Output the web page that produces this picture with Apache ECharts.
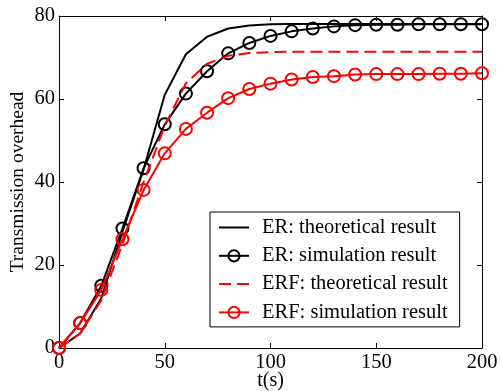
<!DOCTYPE html>
<html>
<head>
<meta charset="utf-8">
<script src="https://cdn.jsdelivr.net/npm/echarts@6/dist/echarts.min.js"></script>
<style>
  html, body { margin: 0; padding: 0; background: #fff; }
  #chart { width: 500px; height: 391px; }
</style>
</head>
<body>
<div id="chart"></div>
<script>
// time axis (s), one point every 10 s
const times = [0, 10, 20, 30, 40, 50, 60, 70, 80, 90, 100, 110, 120, 130, 140, 150, 160, 170, 180, 190, 200];

const erTheory = [0, 3.5, 12, 28, 43, 61, 70.8, 75, 77, 77.7, 78, 78.1, 78.1, 78.1, 78.1, 78.1, 78.1, 78.1, 78.1, 78.1, 78.1];
const erSim = [0, 6, 15, 28.8, 43.3, 53.9, 61.3, 66.7, 71, 73.5, 75.2, 76.3, 77, 77.5, 77.8, 77.9, 77.9, 78, 78, 78, 78];
const erfTheory = [0, 3.5, 11.5, 25, 40, 53.5, 63.8, 68.5, 70.4, 71.1, 71.3, 71.4, 71.4, 71.4, 71.4, 71.4, 71.4, 71.4, 71.4, 71.4, 71.4];
const erfSim = [0, 6, 14, 26.2, 38.1, 46.9, 52.8, 56.7, 60.2, 62.4, 63.7, 64.7, 65.3, 65.5, 65.9, 66, 66, 66, 66.1, 66.1, 66.2];

const seriesNames = ['ER: theoretical result', 'ER: simulation result', 'ERF: theoretical result', 'ERF: simulation result'];

const font = 'Liberation Serif';

function pairs(ys) {
  return times.map((t, i) => [t, ys[i]]);
}

function frameAxis(pos, isX) {
  return {
    type: 'value',
    position: pos,
    min: 0,
    max: isX ? 200 : 80,
    interval: isX ? 50 : 20,
    axisLine: { show: true, onZero: false, lineStyle: { color: '#000', width: 1 } },
    axisTick: { show: true, inside: true, length: 5, lineStyle: { color: '#000' } },
    axisLabel: { show: false },
    splitLine: { show: false }
  };
}

const chart = echarts.init(document.getElementById('chart'), null, { renderer: 'canvas' });

chart.setOption({
  animation: false,
  backgroundColor: '#fff',
  textStyle: { fontFamily: font },
  grid: { left: 59, right: 18, top: 16, bottom: 43, containLabel: false, outerBoundsMode: 'none' },
  legend: {
    orient: 'vertical',
    left: 210,
    top: 212,
    data: seriesNames,
    backgroundColor: '#fff',
    borderColor: '#000',
    borderWidth: 1,
    borderRadius: 0,
    padding: [5, 12, 4, 8],
    itemWidth: 30,
    itemHeight: 14,
    itemGap: 7.3,
    textStyle: { fontFamily: font, fontSize: 20.5, color: '#000', lineHeight: 20, padding: [0, 0, 0, 8] }
  },
  xAxis: [
    {
      type: 'value',
      min: 0,
      max: 200,
      interval: 50,
      name: 't(s)',
      nameLocation: 'middle',
      nameGap: 23,
      nameMoveOverlap: false,
      nameTextStyle: { fontFamily: font, fontSize: 20, color: '#000' },
      axisLine: { show: true, onZero: false, lineStyle: { color: '#000', width: 1 } },
      axisTick: { show: true, inside: true, length: 5, lineStyle: { color: '#000' } },
      axisLabel: { fontFamily: font, fontSize: 20.5, color: '#000', margin: 4 },
      splitLine: { show: false }
    },
    frameAxis('top', true)
  ],
  yAxis: [
    {
      type: 'value',
      min: 0,
      max: 80,
      interval: 20,
      name: 'Transmission overhead',
      nameLocation: 'middle',
      nameGap: 31,
      nameMoveOverlap: false,
      nameTextStyle: { fontFamily: font, fontSize: 19.5, color: '#000' },
      axisLine: { show: true, onZero: false, lineStyle: { color: '#000', width: 1 } },
      axisTick: { show: true, inside: true, length: 5, lineStyle: { color: '#000' } },
      axisLabel: { fontFamily: font, fontSize: 20.5, color: '#000', margin: 4 },
      splitLine: { show: false }
    },
    frameAxis('right', false)
  ],
  series: [
    {
      name: seriesNames[0],
      type: 'line',
      data: pairs(erTheory),
      showSymbol: false,
      symbol: 'none',
      color: '#000',
      itemStyle: { opacity: 0 },
      lineStyle: { color: '#000', width: 2 },
      z: 2
    },
    {
      name: seriesNames[1],
      type: 'line',
      data: pairs(erSim),
      symbol: 'circle',
      symbolSize: 12,
      clip: false,
      color: '#000',
      itemStyle: { color: 'rgba(0,0,0,0)', borderColor: '#000', borderWidth: 2 },
      lineStyle: { color: '#000', width: 2 },
      z: 3
    },
    {
      name: seriesNames[2],
      type: 'line',
      data: pairs(erfTheory),
      showSymbol: false,
      symbol: 'none',
      color: '#f00',
      itemStyle: { opacity: 0 },
      lineStyle: { color: '#f00', width: 2, type: [12, 6] },
      z: 4
    },
    {
      name: seriesNames[3],
      type: 'line',
      data: pairs(erfSim),
      symbol: 'circle',
      symbolSize: 12,
      clip: false,
      color: '#f00',
      itemStyle: { color: 'rgba(0,0,0,0)', borderColor: '#f00', borderWidth: 2 },
      lineStyle: { color: '#f00', width: 2 },
      z: 5
    }
  ]
});
</script>
</body>
</html>
